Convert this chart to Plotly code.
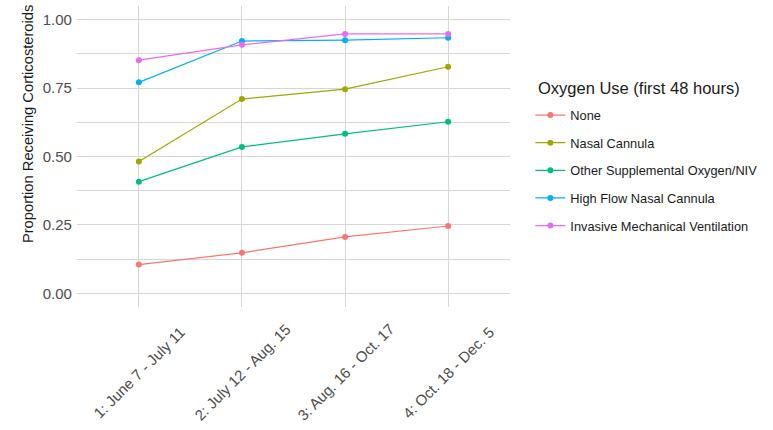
import plotly.graph_objects as go

periods = ["1: June 7 - July 11", "2: July 12 - Aug. 15", "3: Aug. 16 - Oct. 17", "4: Oct. 18 - Dec. 5"]
groups = ["None", "Nasal Cannula", "Other Supplemental Oxygen/NIV", "High Flow Nasal Cannula", "Invasive Mechanical Ventilation"]
none_vals = [0.105, 0.148, 0.206, 0.246]
nasal_vals = [0.482, 0.710, 0.746, 0.828]
other_vals = [0.408, 0.535, 0.583, 0.627]
hfnc_vals = [0.771, 0.922, 0.925, 0.934]
imv_vals = [0.852, 0.908, 0.948, 0.948]
series = [none_vals, nasal_vals, other_vals, hfnc_vals, imv_vals]
colors = ["#F8766D", "#A3A500", "#00BF7D", "#00B0F6", "#E76BF3"]
y_ticks = [0, 0.25, 0.5, 0.75, 1.0]
y_ticktext = ["0.00", "0.25", "0.50", "0.75", "1.00"]
legend_title = "Oxygen Use (first 48 hours)"
y_title = "Proportion Receiving Corticosteroids"

fig = go.Figure()
for name, vals, col in zip(groups, series, colors):
    fig.add_trace(go.Scatter(
        x=periods, y=vals, mode="lines+markers", name=name,
        legendgroup=name,
        line=dict(color=col, width=1.2),
        marker=dict(color=col, size=6),
    ))

# rotated category labels centred under each tick (ggplot style)
for p in periods:
    fig.add_annotation(
        x=p, xref="x", y=-0.216, yref="paper",
        text=p, showarrow=False, textangle=-45,
        xanchor="center", yanchor="middle",
        font=dict(size=15, color="#4d4d4d"),
    )

# legend title
fig.add_annotation(
    x=1.06, xref="paper", y=0.727, yref="paper",
    text=legend_title, showarrow=False,
    xanchor="left", yanchor="middle",
    font=dict(size=16.5, color="#1a1a1a"),
)

# y axis title
fig.add_annotation(
    x=-0.113, xref="paper", y=0.608, yref="paper",
    text=y_title, showarrow=False, textangle=-90,
    xanchor="center", yanchor="middle",
    font=dict(size=14.7, color="#1a1a1a"),
)

grid = "#d6d6d6"
fig.update_layout(
    width=773, height=430,
    margin=dict(l=77, r=263, t=6, b=123, autoexpand=False),
    paper_bgcolor="white", plot_bgcolor="white",
    font=dict(family="Liberation Sans, Arial, sans-serif", color="#4d4d4d"),
    showlegend=True,
    legend=dict(
        font=dict(size=12.8, color="#1a1a1a"),
        x=1.047, xanchor="left", xref="paper",
        y=0.687, yanchor="top",
        tracegroupgap=8,
        itemwidth=30,
        bgcolor="rgba(0,0,0,0)",
    ),
    xaxis=dict(
        type="category", range=[-0.6, 3.6], automargin=False,
        showgrid=True, gridcolor=grid, gridwidth=1,
        showticklabels=False,
        showline=False, zeroline=False, ticks="",
    ),
    yaxis=dict(
        range=[-0.05, 1.05], automargin=False,
        tickvals=y_ticks,
        ticktext=[t + "\u00a0" for t in y_ticktext],
        showgrid=True, gridcolor=grid, gridwidth=1,
        minor=dict(tickvals=[0.125, 0.375, 0.625, 0.875], showgrid=True, gridcolor=grid, gridwidth=0.6),
        tickfont=dict(size=15, color="#4d4d4d"),
        zeroline=False, showline=False, ticks="",
    ),
)

fig.write_html("out.html", config={"displayModeBar": False},
               post_script="document.body.style.margin='0';")
